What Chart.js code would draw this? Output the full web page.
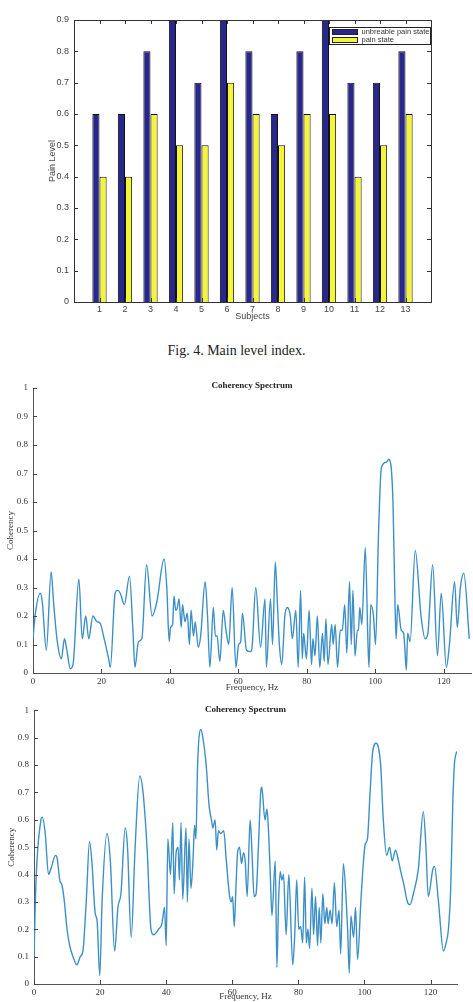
<!DOCTYPE html>
<html>
<head>
<meta charset="utf-8">
<script src="https://cdn.jsdelivr.net/npm/chart.js@4.4.1/dist/chart.umd.min.js"></script>
<style>
html, body { margin: 0; padding: 0; background: #fff; }
body { position: relative; width: 473px; height: 1002px; overflow: hidden; }
canvas { position: absolute; left: 0; }
#caption { position: absolute; left: 0; top: 343px; width: 473px; text-align: center;
  font: 14px "Liberation Serif", "Times New Roman", serif; color: #222; }
</style>
</head>
<body>
<canvas id="bars" width="473" height="340" style="top:0"></canvas>
<div id="caption">Fig. 4. Main level index.</div>
<canvas id="spec1" width="473" height="340" style="top:360px"></canvas>
<canvas id="spec2" width="473" height="302" style="top:700px"></canvas>

<script>
/* ---- Fig. 4 bar data ---- */
var subjects = [1, 2, 3, 4, 5, 6, 7, 8, 9, 10, 11, 12, 13];
var unbreablePain = [0.6, 0.6, 0.8, 0.9, 0.7, 0.9, 0.8, 0.6, 0.8, 0.9, 0.7, 0.7, 0.8];
var painState = [0.4, 0.4, 0.6, 0.5, 0.5, 0.7, 0.6, 0.5, 0.6, 0.6, 0.4, 0.5, 0.6];
var painTicks = [0, 0.1, 0.2, 0.3, 0.4, 0.5, 0.6, 0.7, 0.8, 0.9];

/* ---- coherency spectra ---- */
var freqTicks = [0, 20, 40, 60, 80, 100, 120];
var cohTicks = [0, 0.1, 0.2, 0.3, 0.4, 0.5, 0.6, 0.7, 0.8, 0.9, 1];

var spec1Hz = [0, 0.6, 2.1, 2.7, 3.9, 5.3, 6.0, 7.0, 8.3, 9.2, 9.9, 10.9, 11.7, 13.4, 14.4, 15.4, 16.3, 17.5, 18.7, 19.6,
  20.8, 22.1, 22.6, 24.0, 24.7, 25.5, 26.7, 28.2, 29.2, 29.8, 30.8, 31.8, 33.2, 34.8, 36.2, 38.3, 39.1, 39.8, 40.2, 40.8,
  41.2, 41.7, 42.2, 42.7, 43.3, 43.7, 44.4, 45.1, 45.7, 46.2, 46.9, 47.4, 48.3, 49.0, 50.3, 51.0, 51.7, 52.7, 53.3, 53.8,
  54.6, 55.6, 56.4, 57.2, 58.2, 59.3, 60.1, 60.7, 61.2, 62.4, 63.4, 63.9, 65.1, 66.5, 67.8, 68.2, 69.4, 70.0, 70.8, 71.4,
  72.0, 72.7, 73.6, 74.3, 75.2, 75.8, 76.8, 77.5, 78.2, 78.7, 79.1, 79.9, 80.7, 81.4, 81.8, 82.4, 83.1, 83.8, 84.6, 85.1,
  85.6, 86.2, 87.3, 87.7, 88.3, 89.0, 89.8, 90.4, 91.1, 91.7, 92.5, 93.0, 93.5, 94.1, 94.8, 95.1, 95.5, 96.1, 97.1, 97.9,
  98.2, 98.7, 99.5, 100.1, 101.0, 101.8, 103.3, 104.0, 105.2, 105.7, 106.1, 106.6, 107.6, 108.3, 108.6, 109.1, 109.5, 110.2, 111.7, 113.4,
  114.6, 115.4, 116.8, 118.2, 119.3, 120.8, 121.7, 123.2, 124.0, 124.9, 125.9, 127.5];
var spec1Coh = [0.12, 0.2, 0.28, 0.25, 0.08, 0.355, 0.25, 0.12, 0.05, 0.12, 0.08, 0.015, 0.03, 0.33, 0.12, 0.2, 0.12, 0.2, 0.18, 0.175,
  0.12, 0.05, 0.02, 0.28, 0.29, 0.28, 0.24, 0.34, 0.15, 0.02, 0.11, 0.12, 0.38, 0.2, 0.25, 0.4, 0.3, 0.11, 0.16, 0.17,
  0.27, 0.22, 0.23, 0.26, 0.16, 0.24, 0.18, 0.21, 0.1, 0.22, 0.13, 0.18, 0.09, 0.13, 0.32, 0.2, 0.02, 0.23, 0.13, 0.13,
  0.04, 0.22, 0.15, 0.1, 0.3, 0.02, 0.1, 0.11, 0.21, 0.08, 0.075, 0.08, 0.3, 0.09, 0.26, 0.02, 0.26, 0.1, 0.39, 0.25,
  0.1, 0.03, 0.2, 0.23, 0.2, 0.12, 0.22, 0.02, 0.29, 0.05, 0.14, 0.05, 0.22, 0.03, 0.12, 0.06, 0.2, 0.02, 0.14, 0.04,
  0.19, 0.03, 0.17, 0.1, 0.17, 0.02, 0.15, 0.15, 0.24, 0.07, 0.32, 0.1, 0.29, 0.06, 0.15, 0.15, 0.23, 0.17, 0.44, 0.1,
  0.02, 0.24, 0.2, 0.1, 0.5, 0.72, 0.74, 0.75, 0.6, 0.3, 0.12, 0.24, 0.15, 0.14, 0.1, 0.01, 0.14, 0.11, 0.43, 0.2,
  0.12, 0.14, 0.38, 0.06, 0.28, 0.02, 0.1, 0.32, 0.16, 0.3, 0.35, 0.12];

var spec2Hz = [0, 0.4, 0.9, 2.1, 2.5, 3.4, 4.4, 5.1, 6.5, 7.0, 7.8, 8.5, 9.2, 10.0, 10.8, 11.8, 13.0, 14.0, 14.8, 15.8,
  16.8, 17.5, 18.5, 19.1, 19.9, 20.6, 22.1, 23.1, 24.4, 25.4, 26.3, 27.6, 28.3, 29.4, 30.6, 32.0, 33.0, 34.2, 35.4, 36.2,
  37.7, 38.7, 39.5, 40.0, 40.5, 41.3, 42.0, 42.4, 43.0, 43.6, 44.0, 44.5, 45.0, 46.0, 46.4, 46.9, 47.5, 48.1, 48.6, 49.0,
  49.5, 50.5, 51.1, 52.1, 53.0, 53.7, 54.1, 54.8, 55.3, 55.8, 56.5, 57.4, 58.2, 59.2, 59.7, 60.1, 60.6, 61.1, 61.6, 62.2,
  62.8, 63.4, 63.9, 64.5, 65.4, 65.9, 66.6, 67.2, 67.9, 68.6, 68.9, 69.9, 70.5, 71.0, 71.5, 72.0, 73.0, 73.5, 74.0, 74.5,
  75.0, 75.5, 76.3, 77.1, 78.3, 78.9, 79.5, 80.1, 80.7, 81.3, 81.9, 82.4, 82.9, 83.4, 84.1, 84.6, 85.2, 85.8, 86.3, 86.8,
  87.4, 88.0, 88.6, 89.0, 89.6, 90.2, 90.9, 91.6, 92.3, 92.8, 93.6, 94.5, 94.9, 95.4, 95.9, 96.7, 97.3, 97.9, 98.9, 99.7,
  100.2, 100.9, 101.7, 102.5, 103.5, 104.1, 104.9, 105.7, 106.7, 107.6, 108.4, 109.4, 110.3, 111.0, 111.8, 113.0, 113.8, 114.8, 116.3, 117.8,
  118.6, 119.3, 120.7, 121.2, 122.4, 123.9, 124.7, 125.4, 126.1, 126.7, 127.2, 127.9];
var spec2Coh = [0.09, 0.3, 0.45, 0.6, 0.61, 0.55, 0.4, 0.42, 0.47, 0.46, 0.38, 0.36, 0.3, 0.2, 0.14, 0.1, 0.07, 0.1, 0.12, 0.3,
  0.52, 0.45, 0.26, 0.23, 0.03, 0.3, 0.55, 0.45, 0.12, 0.28, 0.33, 0.57, 0.5, 0.17, 0.5, 0.76, 0.7, 0.5, 0.2, 0.18,
  0.2, 0.22, 0.28, 0.14, 0.53, 0.4, 0.59, 0.33, 0.48, 0.5, 0.38, 0.59, 0.31, 0.57, 0.3, 0.53, 0.35, 0.45, 0.58, 0.53,
  0.8, 0.93, 0.9, 0.8, 0.65, 0.6, 0.57, 0.6, 0.49, 0.56, 0.55, 0.56, 0.45, 0.32, 0.3, 0.32, 0.21, 0.35, 0.48, 0.5,
  0.44, 0.48, 0.45, 0.32, 0.6, 0.5, 0.32, 0.33, 0.5, 0.7, 0.72, 0.6, 0.64, 0.55, 0.4, 0.25, 0.45, 0.06, 0.3, 0.41,
  0.38, 0.4, 0.18, 0.4, 0.07, 0.18, 0.38, 0.2, 0.21, 0.15, 0.39, 0.15, 0.2, 0.13, 0.35, 0.18, 0.32, 0.14, 0.28, 0.15,
  0.33, 0.22, 0.28, 0.22, 0.27, 0.22, 0.37, 0.21, 0.27, 0.11, 0.44, 0.3, 0.2, 0.04, 0.25, 0.17, 0.28, 0.09, 0.3, 0.45,
  0.51, 0.53, 0.7, 0.85, 0.88, 0.87, 0.8, 0.6, 0.47, 0.5, 0.45, 0.49, 0.45, 0.41, 0.37, 0.3, 0.29, 0.33, 0.42, 0.63,
  0.5, 0.32, 0.42, 0.43, 0.3, 0.12, 0.15, 0.2, 0.35, 0.65, 0.8, 0.85];

var SERIF = '"Liberation Serif", "Times New Roman", serif';
var SANS = '"Liberation Sans", Arial, sans-serif';

// short tick marks pointing into the plot, MATLAB style
var inwardTicks = {
    id: "inwardTicks",
    afterDraw: function(chart, args, opts) {
        var ctx = chart.ctx, a = chart.chartArea, len = opts.length || 4;
        var xs = chart.scales.x, ys = chart.scales.y;
        ctx.save();
        ctx.strokeStyle = opts.color || "#444";
        ctx.lineWidth = 1;
        ctx.beginPath();
        ys.ticks.forEach(function(t) {
            var y = Math.round(ys.getPixelForValue(t.value)) + 0.5;
            ctx.moveTo(a.left, y); ctx.lineTo(a.left + len, y);
            if (opts.box) { ctx.moveTo(a.right, y); ctx.lineTo(a.right - len, y); }
        });
        xs.ticks.forEach(function(t) {
            var x = Math.round(xs.getPixelForValue(t.value)) + 0.5;
            ctx.moveTo(x, a.bottom); ctx.lineTo(x, a.bottom - len);
            if (opts.box) { ctx.moveTo(x, a.top); ctx.lineTo(x, a.top + len); }
        });
        if (opts.box) {
            ctx.moveTo(a.left, Math.round(a.top) + 0.5); ctx.lineTo(a.right, Math.round(a.top) + 0.5);
            ctx.moveTo(Math.round(a.right) + 0.5, a.top); ctx.lineTo(Math.round(a.right) + 0.5, a.bottom);
        }
        ctx.stroke();
        ctx.restore();
    }
};

// title sitting on the top edge of the plot
var innerTitle = {
    id: "innerTitle",
    afterDraw: function(chart, args, opts) {
        var ctx = chart.ctx, a = chart.chartArea;
        ctx.save();
        ctx.font = opts.font;
        ctx.fillStyle = opts.color || "#222";
        ctx.textAlign = "center";
        ctx.textBaseline = "middle";
        ctx.fillText(opts.text, (a.left + a.right) / 2, a.top + opts.offset);
        ctx.restore();
    }
};

// boxed legend in the top right corner of the plot
var boxLegend = {
    id: "boxLegend",
    afterDraw: function(chart, args, opts) {
        var ctx = chart.ctx, a = chart.chartArea;
        var sets = chart.data.datasets;
        var w = opts.width, rowH = opts.rowHeight;
        var x0 = Math.round(a.right - w - 1) + 0.5, y0 = Math.round(a.top + opts.top) + 0.5;
        var h = rowH * sets.length + 2;
        ctx.save();
        ctx.fillStyle = "#fff";
        ctx.fillRect(x0, y0, w, h);
        ctx.strokeStyle = "#222";
        ctx.lineWidth = 1;
        ctx.strokeRect(x0, y0, w, h);
        ctx.font = opts.font;
        ctx.textBaseline = "middle";
        sets.forEach(function(ds, i) {
            var cy = y0 + 1 + rowH * (i + 0.5);
            ctx.fillStyle = ds.backgroundColor;
            ctx.fillRect(x0 + 3, Math.round(cy - 3) + 0.5, 25, 5);
            ctx.strokeRect(x0 + 3, Math.round(cy - 3) + 0.5, 25, 5);
            ctx.fillStyle = "#333";
            ctx.fillText(ds.label, x0 + 32, cy);
        });
        ctx.restore();
    }
};

function fixWidth(w) { return function(s) { s.width = w; }; }
function fixHeight(h) { return function(s) { s.height = h; }; }
function useTicks(list) { return function(s) { s.ticks = list.map(function(v) { return { value: v }; }); }; }
function plainNum(v) { return String(+Number(v).toFixed(2)); }

/* ---- Fig. 4: pain level bars ---- */
new Chart(document.getElementById("bars"), {
    type: "bar",
    data: {
        datasets: [
            { label: "unbreable pain state", backgroundColor: "#28288c", borderColor: "#111",
              data: subjects.map(function(s, i) { return { x: s, y: unbreablePain[i] }; }) },
            { label: "pain state", backgroundColor: "#f4f43c", borderColor: "#111",
              data: subjects.map(function(s, i) { return { x: s, y: painState[i] }; }) }
        ]
    },
    options: {
        responsive: false,
        animation: false,
        layout: { padding: { left: 43, right: 42, top: 20, bottom: 14 } },
        datasets: { bar: { borderWidth: 1, categoryPercentage: 0.56, barPercentage: 1 } },
        plugins: {
            legend: { display: false },
            tooltip: { enabled: false },
            inwardTicks: { box: true, color: "#333", length: 4 },
            boxLegend: { width: 101, rowHeight: 7.5, top: 7, font: "7.5px " + SANS }
        },
        scales: {
            x: {
                type: "linear", min: 0, max: 14, offset: false,
                afterBuildTicks: useTicks(subjects),
                afterFit: fixHeight(24),
                grid: { display: false, drawTicks: false, offset: false },
                border: { display: true, color: "#333" },
                ticks: { color: "#444", padding: 2, font: { family: SANS, size: 9 }, callback: plainNum },
                title: { display: true, text: "Subjects", color: "#444", padding: 4, font: { family: SANS, size: 9 } }
            },
            y: {
                min: 0, max: 0.9,
                afterBuildTicks: useTicks(painTicks),
                afterFit: fixWidth(31),
                grid: { display: false, drawTicks: false },
                border: { display: true, color: "#333" },
                ticks: { color: "#444", padding: 5, font: { family: SANS, size: 9 }, callback: plainNum },
                title: { display: true, text: "Pain Level", color: "#444", padding: 4, font: { family: SANS, size: 9 } }
            }
        }
    },
    plugins: [inwardTicks, boxLegend]
});

/* ---- coherency spectrum plots ---- */
function spectrum(id, hz, coh, pad, xH, yW, titleOffset, xTitlePad) {
    return new Chart(document.getElementById(id), {
        type: "line",
        data: {
            datasets: [{
                data: hz.map(function(f, i) { return { x: f, y: coh[i] }; }),
                borderColor: "#3d90c6", borderWidth: 1.4,
                pointRadius: 0, fill: false,
                cubicInterpolationMode: "monotone"
            }]
        },
        options: {
            responsive: false,
            animation: false,
            layout: { padding: pad },
            plugins: {
                legend: { display: false },
                tooltip: { enabled: false },
                inwardTicks: { box: false, color: "#444", length: 4 },
                innerTitle: { text: "Coherency Spectrum", offset: titleOffset, color: "#222", font: "bold 9px " + SERIF }
            },
            scales: {
                x: {
                    type: "linear", min: 0, max: 128,
                    afterBuildTicks: useTicks(freqTicks),
                    afterFit: fixHeight(xH),
                    grid: { display: false, drawTicks: false },
                    border: { display: true, color: "#555" },
                    ticks: { color: "#333", padding: 3, font: { family: SERIF, size: 9 }, callback: plainNum },
                    title: { display: true, text: "Frequency, Hz", color: "#333",
                             padding: { top: 0, bottom: xTitlePad }, font: { family: SERIF, size: 9 } }
                },
                y: {
                    min: 0, max: 1,
                    afterBuildTicks: useTicks(cohTicks),
                    afterFit: fixWidth(yW),
                    grid: { display: false, drawTicks: false },
                    border: { display: true, color: "#555" },
                    ticks: { color: "#333", padding: 5, font: { family: SERIF, size: 9 }, callback: plainNum },
                    title: { display: true, text: "Coherency", color: "#333", padding: 4, font: { family: SERIF, size: 9 } }
                }
            }
        },
        plugins: [inwardTicks, innerTitle]
    });
}

spectrum("spec1", spec1Hz, spec1Coh, { left: 1, right: 2, top: 28, bottom: 3 }, 24, 32, -2, 4);
spectrum("spec2", spec2Hz, spec2Coh, { left: 2, right: 16, top: 8, bottom: 0 }, 18, 32, -1, 0);
</script>
</body>
</html>
